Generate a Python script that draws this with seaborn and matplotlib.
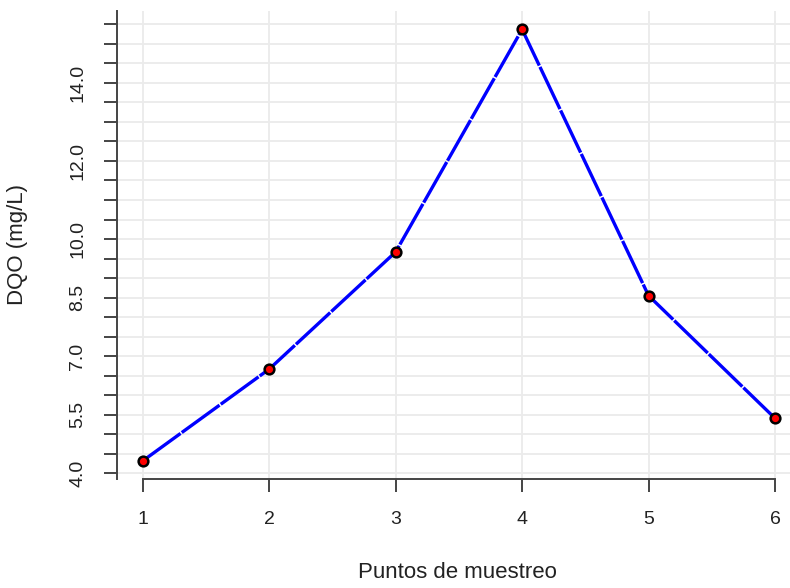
import numpy as np
import pandas as pd
import matplotlib
matplotlib.use('Agg')
import matplotlib.pyplot as plt
import seaborn as sns

# Datos
puntos = [1, 2, 3, 4, 5, 6]
dqo = [4.32, 6.67, 9.67, 15.37, 8.55, 5.41]

# Marcas del eje Y (cada 0.5) y las que llevan etiqueta
y_ticks = np.arange(4.0, 15.51, 0.5)
y_labels_shown = [4.0, 5.5, 7.0, 8.5, 10.0, 12.0, 14.0]

df = pd.DataFrame({'Punto': puntos, 'DQO': dqo})

sns.set_theme(style="whitegrid")
plt.rcParams['font.family'] = ['Liberation Sans', 'DejaVu Sans']

fig = plt.figure(figsize=(7.9, 5.88), dpi=100)
ax = fig.add_axes([117.5 / 790, 1 - 478.8 / 588, (800.3 - 117.5) / 790, (478.8 - 11) / 588])
ax.set_facecolor('white')

sns.lineplot(data=df, x='Punto', y='DQO', ax=ax, color='#0000FF', linewidth=2.4,
             linestyle=(0, (14, 0.45)), marker='o', markersize=7,
             markerfacecolor='#FF0000', markeredgecolor='black', markeredgewidth=1.8,
             zorder=3)

ax.set_xlim(0.8, 6.2)
ax.set_ylim(3.86, 15.84)
ax.set_xticks(puntos)
ax.set_xticklabels([str(p) for p in puntos])
ax.set_yticks(y_ticks)
ax.set_yticklabels([f'{v:.1f}' if any(abs(v - s) < 1e-9 for s in y_labels_shown) else ''
                    for v in y_ticks], rotation=90, va='center')

ax.grid(True, color='#EBEBEB', linewidth=1.3)
for side in ['top', 'right']:
    ax.spines[side].set_visible(False)
ax.spines['left'].set_color('#444444')
ax.spines['bottom'].set_color('#444444')
ax.spines['left'].set_linewidth(1.4)
ax.spines['bottom'].set_linewidth(1.4)
ax.spines['bottom'].set_bounds(1, 6)

ax.tick_params(axis='both', which='major', length=9.5, width=1.4, color='#444444',
               labelsize=14, labelcolor='#222222', direction='out',
               bottom=True, left=True)
ax.tick_params(axis='x', pad=14)
ax.tick_params(axis='y', pad=13)
ax.set_xlabel('')
ax.set_ylabel('')

fig.text(18 / 790, 1 - 244.5 / 588, 'DQO (mg/L)', rotation=90, ha='center', va='center',
         fontsize=16, color='#222222')
fig.text(457 / 790, 1 - 573 / 588, 'Puntos de muestreo', ha='center', va='center',
         fontsize=16, color='#222222')

fig.savefig('out.png', dpi=100)
